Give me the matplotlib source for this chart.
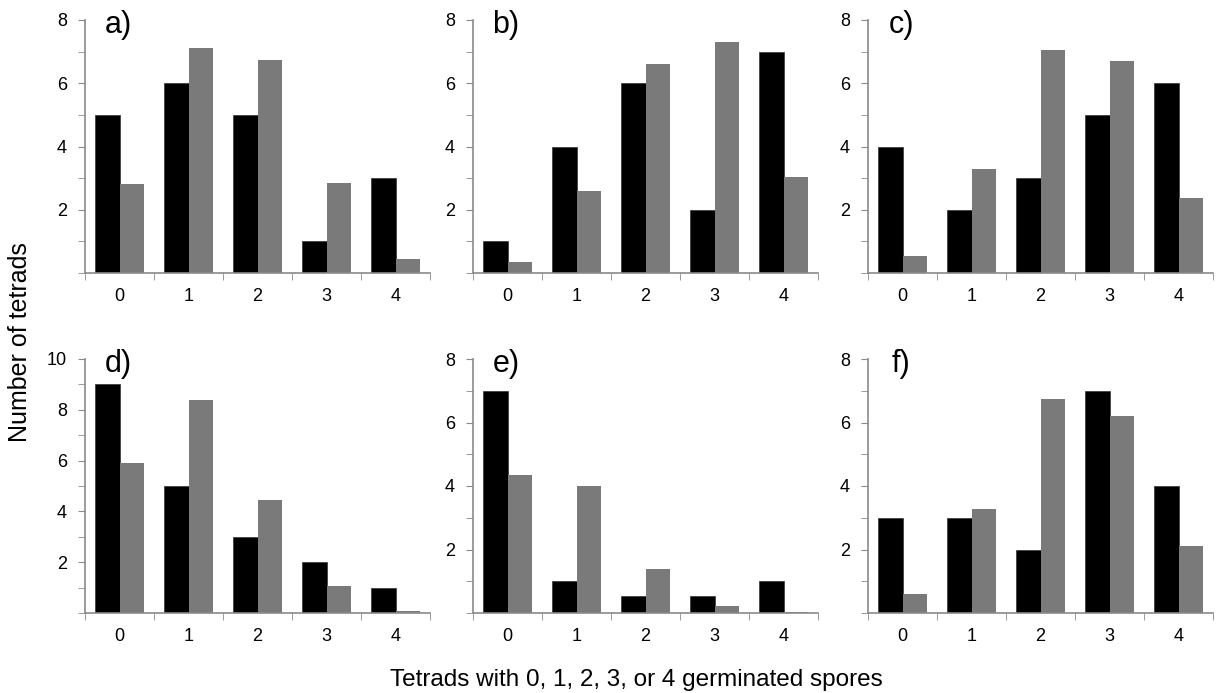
import numpy as np
import matplotlib
import matplotlib.pyplot as plt
from matplotlib.ticker import FixedLocator, MultipleLocator, NullFormatter
matplotlib.use('Agg')

plt.rcParams['font.family'] = ['Liberation Sans', 'DejaVu Sans']

categories = ['0', '1', '2', '3', '4']
panel_labels = ['a)', 'b)', 'c)', 'd)', 'e)', 'f)']

black_a = [5, 6, 5, 1, 3]
gray_a = [2.8, 7.12, 6.75, 2.85, 0.45]
black_b = [1, 4, 6, 2, 7]
gray_b = [0.35, 2.6, 6.6, 7.32, 3.05]
black_c = [4, 2, 3, 5, 6]
gray_c = [0.55, 3.28, 7.05, 6.7, 2.38]
black_d = [9, 5, 3, 2, 1]
gray_d = [5.9, 8.4, 4.45, 1.05, 0.08]
black_e = [7, 1, 0.53, 0.53, 1]
gray_e = [4.35, 4.0, 1.38, 0.22, 0.03]
black_f = [3, 3, 2, 7, 4]
gray_f = [0.6, 3.28, 6.75, 6.22, 2.12]

ymax = [8, 8, 8, 10, 8, 8]

blacks = [black_a, black_b, black_c, black_d, black_e, black_f]
grays = [gray_a, gray_b, gray_c, gray_d, gray_e, gray_f]

W, H = 1216, 693
fig = plt.figure(figsize=(W / 100, H / 100), dpi=100)

lefts = [85, 473, 868]
tops = [20, 359]
bottoms = [273, 613]
aw = 345

spine_col = '#8a8a8a'
bar_w = 0.35

for k in range(6):
    r, c = divmod(k, 3)
    ax = fig.add_axes([lefts[c] / W, 1 - bottoms[r] / H, aw / W, (bottoms[r] - tops[r]) / H])
    x = np.arange(len(categories))
    ax.bar(x + 0.5 - bar_w / 2, blacks[k], width=bar_w, color='black', edgecolor='#333333', linewidth=0.5)
    ax.bar(x + 0.5 + bar_w / 2, grays[k], width=bar_w, color='#7a7a7a', linewidth=0)
    ax.set_xlim(0, 5)
    ax.set_ylim(0, ymax[k])

    for s in ['top', 'right']:
        ax.spines[s].set_visible(False)
    for s in ['left', 'bottom']:
        ax.spines[s].set_color(spine_col)
        ax.spines[s].set_linewidth(1.2)

    # labels at category centres, tick marks at the boundaries
    ax.xaxis.set_major_locator(FixedLocator(x + 0.5))
    ax.set_xticklabels(categories)
    ax.xaxis.set_minor_locator(FixedLocator(np.arange(0, 6)))
    ax.tick_params(axis='x', which='major', length=0, pad=11, labelsize=13)
    ax.tick_params(axis='x', which='minor', length=5, color=spine_col, direction='out')

    ax.yaxis.set_major_locator(MultipleLocator(2))
    ax.yaxis.set_minor_locator(MultipleLocator(1))
    ax.yaxis.set_minor_formatter(NullFormatter())
    ax.set_yticks([t for t in ax.get_yticks() if 0 < t <= ymax[k]])
    ax.tick_params(axis='y', which='both', length=5, color=spine_col, pad=8, labelsize=13)

    ax.text(0.48, 0.98, panel_labels[k], fontsize=22, va='center', ha='center',
            transform=ax.get_xaxis_transform())

fig.text(20 / W, 1 - 342 / H, 'Number of tetrads', rotation=90, fontsize=18, va='center', ha='center')
fig.text(636 / W, 1 - 686 / H, 'Tetrads with 0, 1, 2, 3, or 4 germinated spores', fontsize=17.5,
         va='baseline', ha='center')

fig.savefig('out.png', dpi=100)
